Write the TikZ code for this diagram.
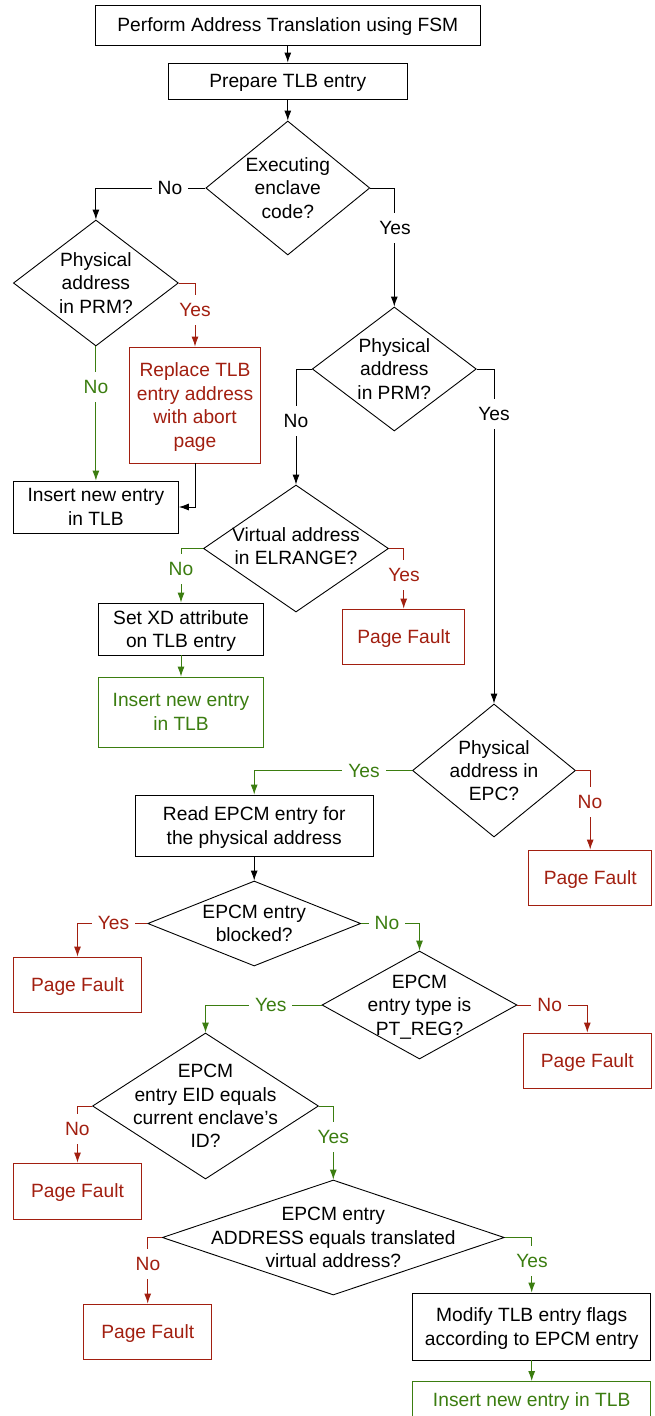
\documentclass[tikz,border=0pt]{standalone}
\usepackage{fontspec}
\setmainfont{Liberation Sans}
\usetikzlibrary{shapes.geometric,arrows.meta}
\definecolor{pfred}{HTML}{A21F10}
\definecolor{okgreen}{HTML}{3B7D10}
\begin{document}
\begin{tikzpicture}[x=1pt,y=-1pt,
  every node/.style={font=\fontsize{19.2}{23.4}\selectfont},
  box/.style={draw, line width=0.9pt, rectangle, align=center, inner sep=0pt, text depth=0pt},
  redbox/.style={box, draw=pfred, text=pfred},
  greenbox/.style={box, draw=okgreen, text=okgreen},
  dia/.style={draw, line width=0.9pt, diamond, inner sep=0pt},
  dtext/.style={align=center, inner sep=0pt, text depth=0pt},
  conn/.style={line width=0.9pt, -{Latex[length=10pt,width=7pt]}},
  rconn/.style={conn, draw=pfred, color=pfred},
  gconn/.style={conn, draw=okgreen, color=okgreen},
  lbl/.style={fill=white, inner xsep=6pt, inner ysep=8pt},
  rlbl/.style={lbl, text=pfred},
  glbl/.style={lbl, text=okgreen}
]
\useasboundingbox (0,0) rectangle (655,1416);
\fill[white] (0,0) rectangle (655,1416);

% boxes
\node[box, minimum width=385pt, minimum height=40pt] (b1) at (287.8,25) {Perform Address Translation using FSM};
\node[box, minimum width=239pt, minimum height=36pt] (b2) at (287.8,81) {Prepare TLB entry};

\node[dia, minimum width=164pt, minimum height=134pt] (d1) at (287.8,188) {};
\node[dtext] (d1t) at (d1) {Executing\\enclave\\code?};

\node[dia, minimum width=165pt, minimum height=126pt] (d2) at (95.9,283) {};
\node[dtext] (d2t) at (d2) {Physical\\address\\in PRM?};

\node[redbox, minimum width=131pt, minimum height=116pt] (rep) at (195,405) {Replace TLB\\entry address\\with abort\\page};
\node[box, minimum width=165pt, minimum height=52pt] (ins1) at (95.9,507) {Insert new entry\\in TLB};

\node[dia, minimum width=164pt, minimum height=124pt] (d3) at (394.3,369) {};
\node[dtext] (d3t) at (d3) {Physical\\address\\in PRM?};

\node[dia, minimum width=185pt, minimum height=127pt] (d4) at (296,548.5) {};
\node[dtext] (d4t) at (296,546) {Virtual address\\in ELRANGE?};

\node[box, minimum width=165pt, minimum height=52pt] (xd) at (181,629) {Set XD attribute\\on TLB entry};
\node[greenbox, minimum width=165pt, minimum height=70pt] (ins2) at (181,712) {Insert new entry\\in TLB};
\node[redbox, minimum width=122pt, minimum height=55pt] (pf1) at (403.7,636.5) {Page Fault};

\node[dia, minimum width=163pt, minimum height=133pt] (d5) at (494,770.5) {};
\node[dtext] (d5t) at (d5) {Physical\\address in\\EPC?};

\node[box, minimum width=238pt, minimum height=61pt] (read) at (254.2,825.5) {Read EPCM entry for\\the physical address};
\node[redbox, minimum width=123pt, minimum height=55pt] (pf2) at (590.2,877.5) {Page Fault};

\node[dia, minimum width=213pt, minimum height=85pt] (d6) at (254.2,923.5) {};
\node[dtext] (d6t) at (d6) {EPCM entry\\blocked?};
\node[redbox, minimum width=128pt, minimum height=55pt] (pf3) at (77.5,984.5) {Page Fault};

\node[dia, minimum width=195pt, minimum height=108pt] (d7) at (419.5,1005) {};
\node[dtext] (d7t) at (d7) {EPCM\\entry type is\\PT\_REG?};
\node[redbox, minimum width=128pt, minimum height=55pt] (pf4) at (587.3,1060.5) {Page Fault};

\node[dia, minimum width=226pt, minimum height=146pt] (d8) at (205.5,1106) {};
\node[dtext] (d8t) at (d8) {EPCM\\entry EID equals\\current enclave’s\\ID?};
\node[redbox, minimum width=128pt, minimum height=56pt] (pf5) at (77.5,1191) {Page Fault};

\node[dia, minimum width=342pt, minimum height=115pt] (d9) at (333.3,1237.5) {};
\node[dtext] (d9t) at (d9) {EPCM entry\\ADDRESS equals translated\\virtual address?};
\node[redbox, minimum width=128pt, minimum height=55pt] (pf6) at (147.7,1331.5) {Page Fault};

\node[box, minimum width=238pt, minimum height=67pt] (mod) at (531.7,1326.5) {Modify TLB entry flags\\according to EPCM entry};
\node[greenbox, minimum width=238pt, minimum height=50pt, anchor=north] (ins3) at (531.7,1381) {};
\node[dtext, text=okgreen] (ins3t) at (531.7,1400) {Insert new entry in TLB};

% connectors
\draw[conn] (b1.south) -- (b2.north);
\draw[conn] (b2.south) -- (d1.north);
\draw[conn] (d1.west) -| (d2.north);
\draw[conn] (d1.east) -| (d3.north);
\draw[rconn] (d2.east) -| (rep.north);
\draw[gconn] (d2.south) -- (ins1.north);
\draw[conn] (rep.south) |- (ins1.east);
\draw[conn] (d3.west) -| (d4.north);
\draw[conn] (d3.east) -| (d5.north);
\draw[gconn] (d4.west) -| (xd.north);
\draw[rconn] (d4.east) -| (pf1.north);
\draw[gconn] (xd.south) -- (ins2.north);
\draw[gconn] (d5.west) -| (read.north);
\draw[rconn] (d5.east) -| (pf2.north);
\draw[conn] (read.south) -- (d6.north);
\draw[rconn] (d6.west) -| (pf3.north);
\draw[gconn] (d6.east) -| (d7.north);
\draw[gconn] (d7.west) -| (d8.north);
\draw[rconn] (d7.east) -| (pf4.north);
\draw[rconn] (d8.west) -| (pf5.north);
\draw[gconn] (d8.east) -| (d9.north);
\draw[rconn] (d9.west) -| (pf6.north);
\draw[gconn] (d9.east) -| (mod.north);
\draw[gconn] (mod.south) -- (ins3.north);

% labels
\node[lbl] (l1n) at (170,188) {No};
\node[lbl] (l1y) at (395,228) {Yes};
\node[rlbl] (l2y) at (195,310) {Yes};
\node[glbl] (l2n) at (96,387) {No};
\node[lbl] (l3n) at (296,421) {No};
\node[lbl] (l3y) at (494,414) {Yes};
\node[glbl] (l4n) at (181,569) {No};
\node[rlbl] (l4y) at (404,575) {Yes};
\node[glbl] (l5y) at (364,771) {Yes};
\node[rlbl] (l5n) at (590,802) {No};
\node[rlbl] (l6y) at (113.6,923) {Yes};
\node[glbl] (l6n) at (387,923) {No};
\node[glbl] (l7y) at (270.7,1005) {Yes};
\node[rlbl] (l7n) at (549.7,1005) {No};
\node[rlbl] (l8n) at (77.3,1129) {No};
\node[glbl] (l8y) at (333.3,1137) {Yes};
\node[rlbl] (l9n) at (148,1264) {No};
\node[glbl] (l9y) at (532,1261) {Yes};
\end{tikzpicture}
\end{document}
